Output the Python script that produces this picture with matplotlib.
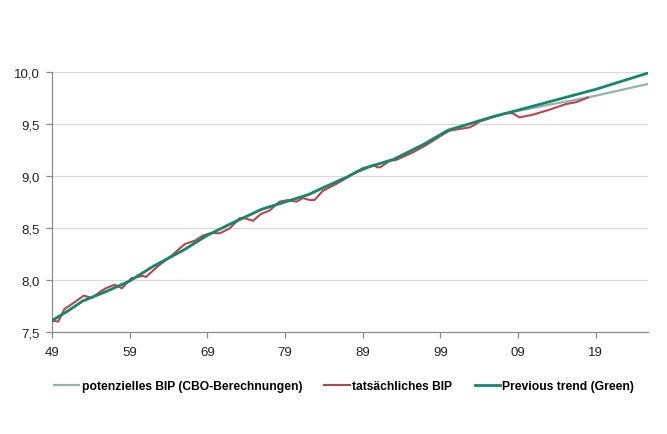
import matplotlib
matplotlib.use("Agg")
import matplotlib.pyplot as plt
from matplotlib.ticker import FixedLocator, FuncFormatter

plt.rcParams['font.family'] = ['Liberation Sans', 'DejaVu Sans']

# Potential GDP (CBO), log scale values
pot_years = [1949, 1951, 1953, 1956, 1959, 1962, 1966, 1969, 1972, 1976, 1979, 1982,
             1984, 1987, 1989, 1993, 1997, 2000, 2004, 2006, 2008, 2010, 2013, 2016,
             2019, 2022, 2025.75]
pot_vals = [7.61, 7.70, 7.80, 7.89, 7.99, 8.13, 8.29, 8.43, 8.54, 8.68, 8.75, 8.82,
            8.89, 8.99, 9.07, 9.16, 9.31, 9.44, 9.53, 9.575, 9.613, 9.64, 9.685, 9.727,
            9.772, 9.822, 9.885]

# Actual GDP
act_years = [1949.0, 1949.8, 1950.6, 1951.9, 1953.1, 1954.1, 1955.4, 1956.0, 1957.1,
             1958.0, 1959.2, 1960.7, 1961.1, 1962.6, 1964.4, 1966.1, 1967.4, 1968.4,
             1969.5, 1970.6, 1971.9, 1973.2, 1973.8, 1974.9, 1975.9, 1977.0, 1978.3,
             1979.4, 1980.5, 1981.3, 1982.2, 1982.8, 1983.9, 1985.2, 1986.5, 1987.7,
             1989.5, 1990.4, 1990.9, 1991.3, 1992.5, 1993.3, 1995.5, 1997.2, 1999.3,
             2000.2, 2001.5, 2002.8, 2003.4, 2004.0, 2005.5, 2007.5, 2008.3, 2009.2,
             2010.9, 2013.05, 2015.2, 2016.5, 2018.0]
act_vals = [7.609, 7.600, 7.720, 7.786, 7.850, 7.827, 7.897, 7.923, 7.955,
            7.920, 8.016, 8.040, 8.029, 8.130, 8.234, 8.346, 8.378, 8.426,
            8.452, 8.449, 8.497, 8.596, 8.593, 8.570, 8.635, 8.667, 8.753,
            8.769, 8.753, 8.788, 8.769, 8.769, 8.859, 8.907, 8.962, 9.019,
            9.074, 9.108, 9.083, 9.085, 9.147, 9.154, 9.228, 9.298, 9.397,
            9.436, 9.452, 9.468, 9.490, 9.522, 9.560, 9.605, 9.603, 9.564,
            9.589, 9.637, 9.692, 9.710, 9.753]

# Previous trend (Green)
trend_years = [1949, 1951, 1953, 1956, 1959, 1962, 1966, 1969, 1972, 1976, 1979, 1982,
               1984, 1987, 1989, 1993, 1997, 2000, 2004, 2006, 2008, 2019, 2025.75]
trend_vals = [7.61, 7.70, 7.80, 7.89, 7.99, 8.13, 8.29, 8.43, 8.54, 8.68, 8.75, 8.82,
              8.89, 8.99, 9.07, 9.16, 9.31, 9.44, 9.53, 9.575, 9.613, 9.833, 9.99]

xtick_years = [1949, 1959, 1969, 1979, 1989, 1999, 2009, 2019]
xtick_labels = ["49", "59", "69", "79", "89", "99", "09", "19"]
yticks = [7.5, 8.0, 8.5, 9.0, 9.5, 10.0]

fig = plt.figure(figsize=(6.67, 4.35), dpi=100)
ax = fig.add_axes([52/667, 102/435, 596/667, 260/435])

ax.plot(pot_years, pot_vals, color='#93b3ab', lw=1.6, label='potenzielles BIP (CBO-Berechnungen)', zorder=2)
ax.plot(act_years, act_vals, color='#b5474f', lw=1.5, label='tatsächliches BIP', zorder=3)
ax.plot(trend_years, trend_vals, color='#17866b', lw=2.0, label='Previous trend (Green)', zorder=4)

ax.set_xlim(1949, 2025.75)
ax.set_ylim(7.5, 10.0)
ax.yaxis.set_major_locator(FixedLocator(yticks))
ax.yaxis.set_major_formatter(FuncFormatter(lambda v, p: f"{v:.1f}".replace('.', ',')))
ax.set_xticks(xtick_years)
ax.set_xticklabels(xtick_labels)

ax.grid(axis='y', color='#d9d9d9', lw=0.9, zorder=0)
ax.set_axisbelow(True)
for s in ['top', 'right']:
    ax.spines[s].set_visible(False)
for s in ['left', 'bottom']:
    ax.spines[s].set_color('#8c8c8c')
    ax.spines[s].set_linewidth(0.9)
ax.tick_params(axis='both', colors='#8c8c8c', labelcolor='#222222', labelsize=9.5,
               length=4, width=0.9, direction='out')
ax.tick_params(axis='y', pad=5)
ax.tick_params(axis='x', pad=6)

leg = fig.legend(loc='center', bbox_to_anchor=(344/667, (435-387)/435),
                 ncol=3, frameon=False, handlelength=2.1, handletextpad=0.2,
                 columnspacing=1.85, prop={'weight': 'bold', 'size': 8.7})

fig.savefig('out.png', dpi=100)
